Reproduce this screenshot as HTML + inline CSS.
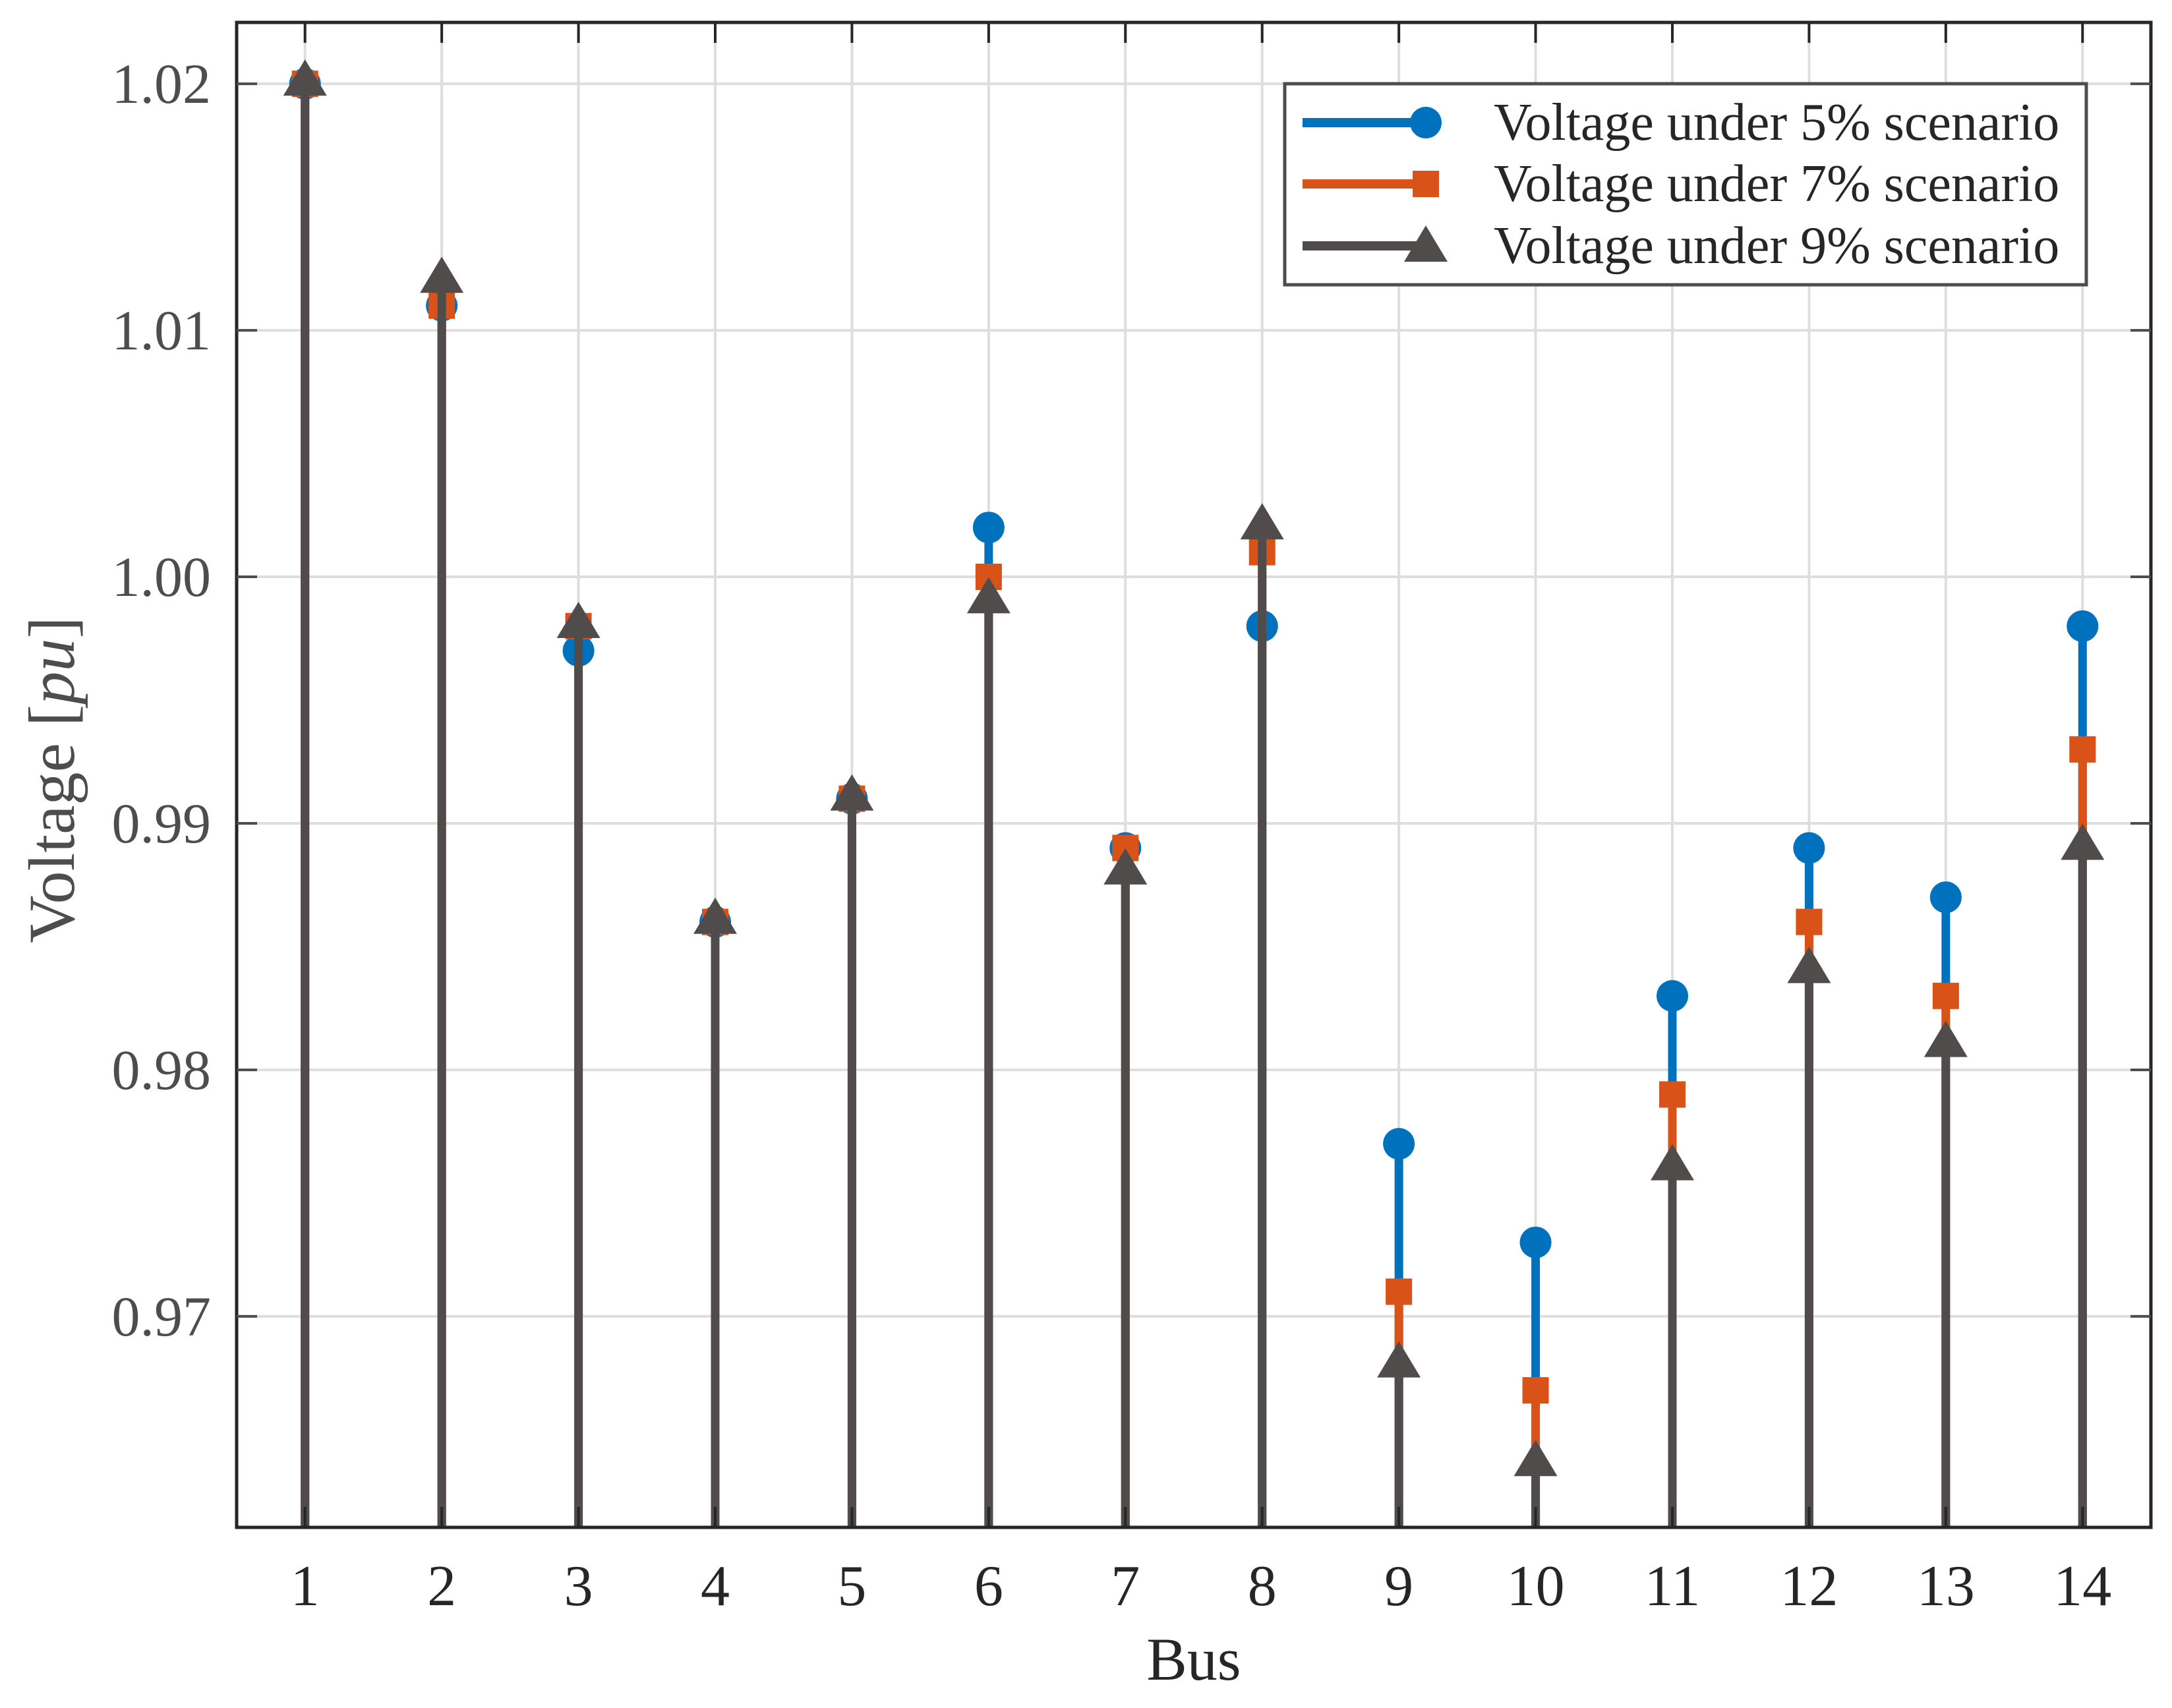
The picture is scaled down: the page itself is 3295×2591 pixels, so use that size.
<!DOCTYPE html>
<html><head><meta charset="utf-8"><style>
html,body{margin:0;padding:0;background:#fff}
svg{display:block}
text{font-family:"Liberation Serif",serif}
</style></head><body>
<svg id="chart" width="3295" height="2591" viewBox="0 0 3295 2591" xmlns="http://www.w3.org/2000/svg">
<rect x="0" y="0" width="3295" height="2591" fill="#fff"/>
<g id="grid"></g>
<g id="series"></g>
<g id="axes"></g>
<g id="legend"></g>
</svg>
<script>
const buses = [1,2,3,4,5,6,7,8,9,10,11,12,13,14];
const v5 = [1.020,1.011,0.997,0.986,0.991,1.002,0.989,0.998,0.977,0.973,0.983,0.989,0.987,0.998];
const v7 = [1.020,1.011,0.998,0.986,0.991,1.000,0.989,1.001,0.971,0.967,0.979,0.986,0.983,0.993];
const v9 = [1.020,1.012,0.998,0.986,0.991,0.999,0.988,1.002,0.968,0.964,0.976,0.984,0.981,0.989];
const yTicks = [0.97,0.98,0.99,1.00,1.01,1.02];
const yTickLabels = ["0.97","0.98","0.99","1.00","1.01","1.02"];
const seriesNames = ["Voltage under 5% scenario","Voltage under 7% scenario","Voltage under 9% scenario"];

const NS="http://www.w3.org/2000/svg";
const L=359,R=3263,T=34,B=2317;
const xMin=0.5,xMax=14.5,yMin=0.96144,yMax=1.02249;
const xs=v=>L+(v-xMin)/(xMax-xMin)*(R-L);
const ys=v=>B-(v-yMin)/(yMax-yMin)*(B-T);
function mk(tag,attrs,parent){const e=document.createElementNS(NS,tag);for(const k in attrs)e.setAttribute(k,attrs[k]);parent.appendChild(e);return e;}
const grid=document.getElementById('grid'),ser=document.getElementById('series'),ax=document.getElementById('axes'),leg=document.getElementById('legend');

buses.forEach(b=>{const l=mk('line',{x1:xs(b),x2:xs(b),y1:T,y2:B,stroke:'#dedede','stroke-width':4},grid);

});
yTicks.forEach(t=>{const l=mk('line',{x1:L,x2:R,y1:ys(t),y2:ys(t),stroke:'#dedede','stroke-width':4},grid);

});

const colors=['#0072BD','#D95319','#504c4c'];
function marker(kind,x,y,color,parent){
  let m;
  if(kind===0) m=mk('circle',{cx:x,cy:y,r:24,fill:color},parent);
  else if(kind===1) m=mk('rect',{x:x-20,y:y-20,width:40,height:40,fill:color},parent);
  else m=mk('polygon',{points:`${x},${y-37} ${x-33},${y+18} ${x+33},${y+18}`,fill:color},parent);
  return m;
}
[v5,v7,v9].forEach((vals,si)=>{
  const g=mk('g',{},ser);
  
  
  vals.forEach((v,i)=>{
    const x=xs(buses[i]),y=ys(v);
    const s=mk('line',{x1:x,x2:x,y1:B,y2:y,stroke:colors[si],'stroke-width':13},g);
    
    
    const m=marker(si,x,y,colors[si],g);
    
    
  });
});

const box=mk('rect',{x:L,y:T,width:R-L,height:B-T,fill:'none',stroke:'#262626','stroke-width':5},ax);


buses.forEach(b=>{
  const x=xs(b);
  mk('line',{x1:x,x2:x,y1:B,y2:B-31,stroke:'#262626','stroke-width':4},ax);
  mk('line',{x1:x,x2:x,y1:T,y2:T+31,stroke:'#262626','stroke-width':4},ax);
  const t=mk('text',{x:x,y:2435,'font-size':88,'text-anchor':'middle',fill:'#262626'},ax);
  t.textContent=b;
  
  
});
yTicks.forEach((v,i)=>{
  const y=ys(v);
  mk('line',{x1:L,x2:L+31,y1:y,y2:y,stroke:'#4d4d4d','stroke-width':4},ax);
  mk('line',{x1:R,x2:R-31,y1:y,y2:y,stroke:'#4d4d4d','stroke-width':4},ax);
  const t=mk('text',{x:320,y:y+29,'font-size':86,'text-anchor':'end',fill:'#4d4d4d'},ax);
  t.textContent=yTickLabels[i];
  
  
});
const xt=mk('text',{x:(L+R)/2,y:2548,'font-size':92,'text-anchor':'middle',fill:'#262626'},ax);
xt.textContent='Bus';


const yt=mk('text',{x:0,y:0,'font-size':100,'text-anchor':'middle',fill:'#4d4d4d',transform:'translate(112,1183) rotate(-90)'},ax);
yt.innerHTML='Voltage [<tspan font-style="italic">pu</tspan>]';



const lb=mk('rect',{x:1949,y:127,width:1216,height:305,fill:'#fff',stroke:'#4d4d4d','stroke-width':5},leg);


const ly=[186,279,373];
seriesNames.forEach((n,i)=>{
  const g=mk('g',{},leg);
  
  
  mk('line',{x1:1976,x2:2163,y1:ly[i],y2:ly[i],stroke:colors[i],'stroke-width':14},g);
  marker(i,2163,ly[i]+(i===2?6:0),colors[i],g);
  const t=mk('text',{x:2266,y:ly[i]+26,'font-size':80,fill:'#262626'},g);
  t.textContent=n;
  
  
});
</script>
</body></html>
